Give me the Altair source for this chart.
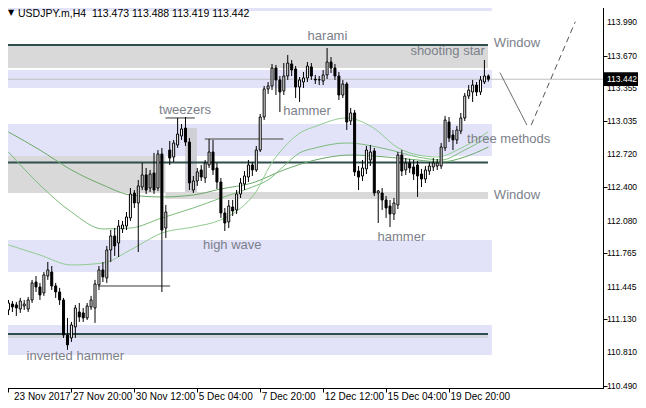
import json
import math
import pandas as pd
import altair as alt

# ---------------- data ----------------
opens = [111.220, 111.277, 111.268, 111.229, 111.258, 111.229, 111.316, 111.489, 111.441, 111.384,
         111.547, 111.585, 111.451, 111.393, 111.316, 110.979, 110.950, 111.056, 111.200, 111.191,
         111.143, 111.249, 111.239, 111.461, 111.605, 111.528, 111.797, 111.932, 111.865, 112.000,
         112.028, 112.106, 112.346, 112.250, 112.404, 112.520, 112.394, 112.539, 112.394, 112.722,
         112.009, 112.760, 112.693, 112.808, 112.895, 112.972, 112.837, 112.375, 112.462, 112.568,
         112.491, 112.616, 112.741, 112.587, 112.452, 112.154, 112.067, 112.211, 112.183, 112.337,
         112.433, 112.500, 112.616, 112.568, 112.760, 113.078, 113.348, 113.377, 113.550, 113.435,
         113.329, 113.473, 113.589, 113.541, 113.367, 113.415, 113.454, 113.560, 113.444, 113.435,
         113.425, 113.483, 113.608, 113.550, 113.473, 113.290, 113.396, 113.040, 113.117, 112.558,
         112.510, 112.578, 112.664, 112.751, 112.346, 112.346, 112.279, 112.221, 112.144, 112.231,
         112.712, 112.568, 112.635, 112.597, 112.616, 112.529, 112.481, 112.558, 112.597, 112.606,
         112.606, 112.780, 113.030, 112.905, 112.857, 112.943, 113.069, 113.280, 113.319, 113.386,
         113.319, 113.415, 113.473]
highs = [111.316, 111.306, 111.297, 111.336, 111.316, 111.345, 111.509, 111.547, 111.480, 111.585,
         111.682, 111.643, 111.480, 111.432, 111.336, 111.143, 111.104, 111.268, 111.287, 111.239,
         111.287, 111.355, 111.509, 111.643, 111.682, 111.836, 111.990, 112.009, 112.086, 112.077,
         112.163, 112.394, 112.375, 112.472, 112.635, 112.587, 112.568, 112.732, 112.760, 112.780,
         112.231, 112.847, 112.857, 113.069, 113.011, 113.078, 112.876, 112.510, 112.587, 112.616,
         112.664, 112.866, 112.857, 112.635, 112.491, 112.202, 112.279, 112.279, 112.375, 112.491,
         112.558, 112.664, 112.645, 112.799, 113.107, 113.377, 113.415, 113.589, 113.579, 113.473,
         113.598, 113.675, 113.627, 113.569, 113.463, 113.512, 113.608, 113.598, 113.483, 113.473,
         113.531, 113.743, 113.656, 113.589, 113.512, 113.435, 113.415, 113.165, 113.146, 112.606,
         112.664, 112.799, 112.808, 112.780, 112.375, 112.394, 112.317, 112.279, 112.298, 112.741,
         112.760, 112.683, 112.674, 112.664, 112.654, 112.578, 112.606, 112.645, 112.683, 112.674,
         112.828, 113.088, 113.078, 112.953, 112.992, 113.117, 113.310, 113.386, 113.435, 113.415,
         113.473, 113.627, 113.488]
lows = [111.171, 111.200, 111.162, 111.191, 111.220, 111.200, 111.287, 111.393, 111.316, 111.355,
        111.509, 111.412, 111.336, 111.268, 110.950, 110.835, 110.912, 110.950, 111.104, 111.104,
        111.123, 111.220, 111.095, 111.412, 111.489, 111.480, 111.682, 111.740, 111.730, 111.961,
        111.990, 112.077, 112.202, 111.778, 112.375, 112.337, 112.356, 112.337, 112.366, 111.393,
        111.913, 112.616, 112.645, 112.780, 112.857, 112.799, 112.375, 112.346, 112.414, 112.462,
        112.443, 112.587, 112.520, 112.385, 112.106, 111.980, 112.009, 112.125, 112.144, 112.298,
        112.375, 112.452, 112.510, 112.549, 112.741, 113.049, 113.300, 113.338, 113.290, 113.126,
        113.290, 113.435, 113.473, 113.261, 113.223, 113.358, 113.415, 113.435, 113.396, 113.386,
        113.386, 113.444, 113.502, 113.435, 113.242, 113.261, 112.953, 113.001, 112.510, 112.375,
        112.462, 112.529, 112.606, 112.317, 112.057, 112.183, 112.106, 112.019, 112.086, 112.192,
        112.510, 112.520, 112.539, 112.472, 112.308, 112.404, 112.443, 112.520, 112.558, 112.568,
        112.578, 112.751, 112.837, 112.760, 112.818, 112.914, 113.040, 113.252, 113.223, 113.280,
        113.290, 113.396, 113.419]
closes = [111.287, 111.249, 111.239, 111.306, 111.277, 111.316, 111.480, 111.441, 111.364, 111.557,
          111.605, 111.451, 111.393, 111.316, 110.979, 110.883, 111.075, 111.239, 111.152, 111.143,
          111.258, 111.316, 111.470, 111.605, 111.538, 111.797, 111.932, 111.836, 112.028, 112.038,
          112.115, 112.337, 112.250, 112.414, 112.520, 112.375, 112.529, 112.375, 112.722, 111.990,
          112.163, 112.683, 112.828, 112.914, 112.963, 112.837, 112.443, 112.462, 112.549, 112.500,
          112.635, 112.741, 112.568, 112.452, 112.154, 112.057, 112.221, 112.173, 112.337, 112.443,
          112.510, 112.616, 112.568, 112.760, 113.078, 113.348, 113.377, 113.550, 113.435, 113.319,
          113.473, 113.598, 113.531, 113.367, 113.435, 113.454, 113.569, 113.473, 113.435, 113.438,
          113.483, 113.608, 113.550, 113.473, 113.290, 113.396, 113.030, 113.117, 112.549, 112.500,
          112.587, 112.760, 112.741, 112.346, 112.366, 112.279, 112.202, 112.144, 112.250, 112.712,
          112.558, 112.635, 112.587, 112.529, 112.510, 112.481, 112.568, 112.606, 112.635, 112.635,
          112.789, 113.049, 112.876, 112.857, 112.953, 113.069, 113.280, 113.338, 113.386, 113.319,
          113.435, 113.473, 113.442]

x_tick_values = [0, 16, 32, 48, 64, 80, 96, 112]
x_tick_labels = ["23 Nov 2017", "27 Nov 20:00", "30 Nov 12:00", "5 Dec 04:00",
                 "7 Dec 20:00", "12 Dec 12:00", "15 Dec 04:00", "19 Dec 20:00"]
y_tick_values = [113.990, 113.670, 113.355, 113.035, 112.720, 112.400,
                 112.080, 111.765, 111.445, 111.130, 110.810, 110.490]

last_price = 113.442
title_text = "USDJPY.m,H4\u00a0\u00a0113.473 113.488 113.419 113.442"

# moving averages (sampled along the curves)
ma_slow_bar = [0, 8, 16, 24, 31, 39, 47, 54, 62, 70, 78, 87, 96, 104, 110, 116, 122]
ma_slow_val = [112.934, 112.760, 112.568, 112.423, 112.327, 112.308, 112.327, 112.385, 112.443,
               112.568, 112.664, 112.712, 112.693, 112.664, 112.645, 112.693, 112.789]
ma_mid_bar = [0, 8, 16, 24, 31, 39, 47, 54, 62, 66, 70, 74, 78, 86, 96, 104, 110, 116, 122]
ma_mid_val = [112.741, 112.423, 112.163, 112.000, 112.009, 112.106, 112.202, 112.298, 112.404,
              112.472, 112.606, 112.732, 112.780, 112.828, 112.770, 112.693, 112.664, 112.760,
              112.885]
ma_fast_bar = [0, 8, 16, 24, 31, 39, 47, 53.9, 59.1, 62.9, 66.6, 69.9, 74.1, 78.4, 85.9, 92.4,
               99.1, 104.1, 109.1, 114.1, 117.9, 121.9]
ma_fast_val = [111.846, 111.749, 111.653, 111.672, 111.797, 111.961, 112.019, 112.086, 112.202,
               112.356, 112.616, 112.780, 112.924, 112.992, 113.069, 112.982, 112.780, 112.712,
               112.693, 112.760, 112.837, 112.934]

# zones: [bar start, bar end, price low, price high, colour]
zone_start = [-2, -2, -2, -2, -2, 39.9, 44.9, -2, -2, -2]
zone_end = [122.9, 121.9, 122.9, 122.9, 39.9, 121.9, 47.9, 122.9, 122.9, 121.9]
zone_low = [114.099, 113.550, 113.358, 112.703, 112.346, 112.289, 112.356, 111.585, 110.786, 110.950]
zone_high = [114.400, 113.762, 113.531, 113.011, 112.703, 112.356, 112.972, 111.894, 111.075, 110.979]
zone_color = ["#e2e2f8", "#d9d9d9", "#e2e2f8", "#e2e2f8", "#d9d9d9", "#d9d9d9", "#cfcfd6",
              "#e2e2f8", "#e2e2f8", "#d4d4dc"]

level_price = [113.772, 112.640, 110.988]

marker_price = [113.069, 112.866, 111.450]
marker_start = [39.9, 49.9, 22.9]
marker_end = [47.4, 69.9, 41.1]

# ellipses: centre bar, centre price, half-width (bars), half-height (price), tilt (deg)
ell_cx = [6.5, 25.25, 35.5, 90.75, 113.25]
ell_cy = [111.402, 111.643, 112.452, 112.664, 112.953]
ell_rx = [4.0, 4.6, 4.5, 4.6, 3.8]
ell_ry = [0.30, 0.30, 0.29, 0.32, 0.21]
ell_tilt = [12, 15, 8, 0, 25]

labels_center = ["harami", "tweezers", "hammer", "high wave", "hammer", "inverted hammer"]
labels_center_bar = [81.1, 44.9, 75.9, 56.9, 99.9, 17.0]
labels_center_price = [113.858, 113.146, 113.136, 111.846, 111.922, 110.776]
labels_left = ["Window", "three methods", "Window"]
labels_left_bar = [123.4, 116.6, 123.4]
labels_left_price = [113.791, 112.866, 112.327]
labels_right = ["shooting star"]
labels_right_bar = [121.1]
labels_right_price = [113.714]

zig_bar = [124.95, 131.8, 132.9, 144.1]
zig_price = [113.505, 113.001, 113.001, 113.996]
zig_part = ["solid", "solid", "dashed", "dashed"]

# ---------------- chart ----------------
W, H = 601, 388
XMIN, XMAX = -0.375, 149.875
YMIN, YMAX = 110.468, 114.205
XS = alt.Scale(domain=[XMIN, XMAX], nice=False, zero=False)
YS = alt.Scale(domain=[YMIN, YMAX], nice=False, zero=False)
PXB = W / (XMAX - XMIN)
PXP = H / (YMAX - YMIN)
AXFONT = "Liberation Sans"
AXSIZE = 8.5


def xq(f):
    return alt.X(f, type="quantitative", scale=XS, title=None)


def yq(f):
    return alt.Y(f, type="quantitative", scale=YS, title=None)


candles = pd.DataFrame({"bar": list(range(len(opens))), "open": opens, "high": highs,
                        "low": lows, "close": closes})

zones = pd.DataFrame({"x1": zone_start, "x2": zone_end, "lo": zone_low, "hi": zone_high,
                      "c": zone_color})
zone_layer = alt.Chart(zones).mark_rect(clip=True).encode(
    x=xq("x1"), x2="x2", y=yq("lo"), y2="hi",
    color=alt.Color("c:N", scale=None))


def ellipse_rows(k, cx, cy, rx, ry, tilt, lo=None, hi=None):
    a = rx * PXB
    b = ry * PXP
    ph = -math.radians(tilt)
    A = math.cos(ph) ** 2 / a ** 2 + math.sin(ph) ** 2 / b ** 2
    B = 2 * math.sin(ph) * math.cos(ph) * (1 / a ** 2 - 1 / b ** 2)
    C = math.sin(ph) ** 2 / a ** 2 + math.cos(ph) ** 2 / b ** 2
    vmax = math.sqrt(4 * A / (4 * A * C - B * B))
    rows = []
    m = 90
    for j in range(m + 1):
        v = vmax * math.sin(-math.pi / 2 + math.pi * j / m)
        d = max(B * B * v * v - 4 * A * (C * v * v - 1), 0.0)
        u1 = (-B * v - math.sqrt(d)) / (2 * A)
        u2 = (-B * v + math.sqrt(d)) / (2 * A)
        p = cy + v / PXP
        if lo is not None and (p < lo or p > hi):
            continue
        rows.append({"k": k, "o": j, "p": p, "xl": cx + u1 / PXB, "xr": cx + u2 / PXB})
    return rows


ell_rows = []
for k in range(len(ell_cx)):
    ell_rows += ellipse_rows(k, ell_cx[k], ell_cy[k], ell_rx[k], ell_ry[k], ell_tilt[k])
ell_df = pd.DataFrame(ell_rows)
ell_layer = alt.Chart(ell_df).mark_area(orient="horizontal", color="#cdebd5", opacity=0.9,
                                        clip=True).encode(
    y=yq("p"), x=xq("xl"), x2="xr", detail="k:N", order="o:Q")

pink_df = pd.DataFrame(ellipse_rows(9, ell_cx[2], ell_cy[2], ell_rx[2], ell_ry[2], ell_tilt[2],
                                    lo=zone_low[4], hi=zone_high[4]))
pink_layer = alt.Chart(pink_df).mark_area(orient="horizontal", color="#f8c8f0",
                                          clip=True).encode(
    y=yq("p"), x=xq("xl"), x2="xr", order="o:Q")

levels = pd.DataFrame({"p": level_price, "x1": [-2] * 3, "x2": [121.9] * 3})
level_layer = alt.Chart(levels).mark_rule(color="#2f4f4f", strokeWidth=2, clip=True).encode(
    x=xq("x1"), x2="x2", y=yq("p"))

markers = pd.DataFrame({"p": marker_price, "x1": marker_start, "x2": marker_end})
marker_layer = alt.Chart(markers).mark_rule(color="#7a7a7a", strokeWidth=1.5, clip=True).encode(
    x=xq("x1"), x2="x2", y=yq("p"))

price_line = alt.Chart(pd.DataFrame({"p": [last_price], "x1": [-2], "x2": [152]})).mark_rule(
    color="#c0c0c0", strokeWidth=1, clip=True).encode(x=xq("x1"), x2="x2", y=yq("p"))

ma_rows = []
for name, bs, vs in [("slow", ma_slow_bar, ma_slow_val), ("mid", ma_mid_bar, ma_mid_val),
                     ("fast", ma_fast_bar, ma_fast_val)]:
    for b_, v_ in zip(bs, vs):
        ma_rows.append({"s": name, "bar": b_, "v": v_})
ma_df = pd.DataFrame(ma_rows)
ma_layer = alt.Chart(ma_df).mark_line(strokeWidth=1, interpolate="monotone", clip=True).encode(
    x=xq("bar"), y=yq("v"), detail="s:N",
    color=alt.Color("s:N", scale=alt.Scale(domain=["slow", "mid", "fast"],
                                           range=["#6aaa6a", "#7cbc7c", "#8fcc8f"]), legend=None))

wick_layer = alt.Chart(candles).mark_rule(color="black", strokeWidth=1, clip=True).encode(
    x=alt.X("bar:Q", scale=XS, title=None,
            axis=alt.Axis(values=x_tick_values, orient="bottom",
                          labelExpr=json.dumps(x_tick_labels) + "[round(datum.value / 16)]",
                          labelAlign="left", labelBaseline="alphabetic",
                          labelOffset={"condition": {"test": "datum.value == 0", "value": 5},
                                       "value": 1},
                          labelPadding=7, tickSize=4, labelFlush=False, labelOverlap=False,
                          labelFont="Liberation Sans", labelFontSize=10,
                          grid=False, domainColor="black", tickColor="black")),
    y=alt.Y("low:Q", scale=YS, title=None,
            axis=alt.Axis(values=y_tick_values, orient="right", tickSize=4, labels=False,
                          grid=False, domainColor="black", tickColor="black")),
    y2="high")

body_layer = alt.Chart(candles).mark_bar(size=2, stroke="black", strokeWidth=1,
                                         clip=True).encode(
    x=xq("bar"), y=yq("open"), y2="close",
    fill=alt.condition("datum.close >= datum.open", alt.value("white"), alt.value("black")))

zig = pd.DataFrame({"bar": zig_bar, "p": zig_price, "part": zig_part})
zig_layer = alt.Chart(zig).mark_line(color="#555555", strokeWidth=1, clip=True).encode(
    x=xq("bar"), y=yq("p"), detail="part:N",
    strokeDash=alt.StrokeDash("part:N", scale=alt.Scale(domain=["solid", "dashed"],
                                                         range=[[1, 0], [6, 4]]), legend=None))

TXT = dict(font="Liberation Sans", fontSize=13, color="#7c808a", baseline="middle")
tc = pd.DataFrame({"t": labels_center, "bar": labels_center_bar, "p": labels_center_price})
tl = pd.DataFrame({"t": labels_left, "bar": labels_left_bar, "p": labels_left_price})
tr = pd.DataFrame({"t": labels_right, "bar": labels_right_bar, "p": labels_right_price})
text_c = alt.Chart(tc).mark_text(align="center", **TXT).encode(x=xq("bar"), y=yq("p"), text="t:N")
text_l = alt.Chart(tl).mark_text(align="left", **TXT).encode(x=xq("bar"), y=yq("p"), text="t:N")
text_r = alt.Chart(tr).mark_text(align="right", **TXT).encode(x=xq("bar"), y=yq("p"), text="t:N")

ylab = pd.DataFrame({"v": y_tick_values, "t": ["%.3f" % v for v in y_tick_values]})
ylab_layer = alt.Chart(ylab).mark_text(align="left", baseline="middle", color="black",
                                       font=AXFONT, fontSize=AXSIZE).encode(
    x=alt.value(W + 4), y=yq("v"), text="t:N")

lp = pd.DataFrame({"p": [last_price], "hi": [last_price + 0.066], "lo": [last_price - 0.066],
                   "t": ["%.3f" % last_price]})
price_box = alt.Chart(lp).mark_rect(color="black").encode(
    x=alt.value(W + 1), x2=alt.value(W + 41), y=yq("hi"), y2="lo")
price_txt = alt.Chart(lp).mark_text(align="left", baseline="middle", color="white",
                                    font=AXFONT, fontSize=AXSIZE).encode(
    x=alt.value(W + 4), y=yq("p"), text="t:N")

head = pd.DataFrame({"t": [title_text]})
title_tri = alt.Chart(head).mark_text(text="\u25bc", align="left", baseline="middle",
                                      font="DejaVu Sans", fontSize=8, color="black").encode(
    x=alt.value(6), y=alt.value(13))
title_txt = alt.Chart(head).mark_text(align="left", baseline="middle", font="Liberation Sans",
                                      fontSize=10.5, color="black").encode(
    x=alt.value(16), y=alt.value(13.5), text="t:N")

chart = alt.layer(
    zone_layer, ell_layer, pink_layer, level_layer, marker_layer, price_line, ma_layer,
    wick_layer, body_layer, zig_layer, text_c, text_l, text_r, ylab_layer, price_box, price_txt,
    title_tri, title_txt,
).properties(
    width=W, height=H,
    autosize=alt.AutoSizeParams(type="none"),
    padding={"left": -6, "top": -8, "right": 35, "bottom": 12},
    background="white",
).configure_view(stroke="black", strokeWidth=1).configure_axis(
    labelColor="black", domainWidth=1, tickWidth=1)

chart.save("out.html", embed_options={"renderer": "svg", "actions": False})
